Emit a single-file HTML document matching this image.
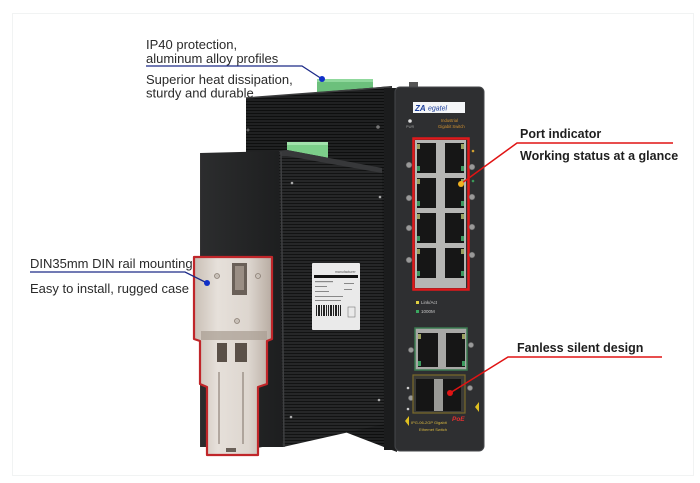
<!DOCTYPE html>
<html><head><meta charset="utf-8"><style>
html,body{margin:0;padding:0;background:#fff;}
svg{display:block}
</style></head><body>
<svg width="700" height="483" viewBox="0 0 700 483" xmlns="http://www.w3.org/2000/svg" font-family="Liberation Sans, Arial, sans-serif">
<defs>
<pattern id="rib" width="4" height="3" patternUnits="userSpaceOnUse">
<rect width="4" height="3" fill="#202122"/>
<rect width="4" height="1" y="2" fill="#0e0f0f"/>
</pattern>
<pattern id="rib2" width="4" height="3" patternUnits="userSpaceOnUse">
<rect width="4" height="3" fill="#262728"/>
<rect width="4" height="1" y="2" fill="#121313"/>
</pattern>
<linearGradient id="face" x1="0" x2="1" y1="0" y2="0">
<stop offset="0" stop-color="#2c2d2e"/><stop offset="1" stop-color="#1d1e1f"/>
</linearGradient>
<linearGradient id="metal" x1="0" x2="1" y1="0" y2="0">
<stop offset="0" stop-color="#c9bfb5"/><stop offset="0.3" stop-color="#e6e0da"/><stop offset="0.7" stop-color="#ddd6cf"/><stop offset="1" stop-color="#b8aca2"/>
</linearGradient>
</defs>
<rect x="12.5" y="13.5" width="681" height="462" fill="none" stroke="#f1f3f3"/>

<!-- green terminal on back device -->
<rect x="317" y="79" width="56" height="13" fill="#6cc07c"/>
<rect x="317" y="79" width="56" height="3" fill="#8fd89c"/>

<!-- back device body -->
<polygon points="246,98 392,86 397,452 345,432 246,450" fill="url(#rib)"/>
<line x1="246" y1="98" x2="392" y2="87" stroke="#3c3d3e" stroke-width="1.5"/>
<circle cx="248" cy="130" r="1.5" fill="#666"/>
<circle cx="378" cy="127" r="1.8" fill="#777"/>
<rect x="384" y="88" width="12" height="362" fill="#1b1c1d"/>

<!-- top knob -->
<rect x="409" y="82" width="9" height="7" fill="#555" />

<!-- front panel -->
<rect x="395" y="87" width="89" height="364" rx="5" fill="#2e2f31" stroke="#45474a"/>
<rect x="413" y="102" width="52" height="11" fill="#f4f6f8"/>
<text x="415" y="111" font-size="8" font-style="italic" font-weight="bold" fill="#1b3d9a">ZA</text>
<text x="428" y="110.5" font-size="7" font-style="italic" fill="#1b3d9a">egatel</text>
<text x="441" y="122" font-size="4.2" fill="#d09030">Industrial</text>
<text x="438" y="128" font-size="4.2" fill="#d09030">Gigabit Switch</text>
<circle cx="410" cy="121" r="1.8" fill="#ddd"/>
<text x="406" y="128" font-size="3.5" fill="#999">PWR</text>

<!-- port block -->
<rect x="415" y="140" width="51" height="148" fill="#b6b6b4"/>
<g fill="#161616">
<rect x="417" y="143" width="19" height="30"/><rect x="445" y="143" width="19" height="30"/>
<rect x="417" y="178" width="19" height="30"/><rect x="445" y="178" width="19" height="30"/>
<rect x="417" y="213" width="19" height="30"/><rect x="445" y="213" width="19" height="30"/>
<rect x="417" y="248" width="19" height="30"/><rect x="445" y="248" width="19" height="30"/>
</g>
<g fill="#9aa060">
<rect x="417" y="144" width="3" height="5"/><rect x="461" y="144" width="3" height="5"/>
<rect x="417" y="179" width="3" height="5"/><rect x="461" y="179" width="3" height="5"/>
<rect x="417" y="214" width="3" height="5"/><rect x="461" y="214" width="3" height="5"/>
<rect x="417" y="249" width="3" height="5"/><rect x="461" y="249" width="3" height="5"/>
</g>
<g fill="#3d9a60">
<rect x="417" y="166" width="3" height="5"/><rect x="461" y="166" width="3" height="5"/>
<rect x="417" y="201" width="3" height="5"/><rect x="461" y="201" width="3" height="5"/>
<rect x="417" y="236" width="3" height="5"/><rect x="461" y="236" width="3" height="5"/>
<rect x="417" y="271" width="3" height="5"/><rect x="461" y="271" width="3" height="5"/>
</g>
<rect x="413.5" y="138.5" width="55" height="151" fill="none" stroke="#e0191b" stroke-width="2.5"/>

<g fill="#999" stroke="#666" stroke-width="0.6">
<circle cx="409" cy="165" r="2.8"/><circle cx="409" cy="198" r="2.8"/><circle cx="409" cy="228" r="2.8"/><circle cx="409" cy="260" r="2.8"/>
<circle cx="472" cy="167" r="2.8"/><circle cx="472" cy="197" r="2.8"/><circle cx="472" cy="227" r="2.8"/><circle cx="472" cy="255" r="2.8"/>
<circle cx="411" cy="350" r="2.6"/><circle cx="471" cy="345" r="2.6"/><circle cx="411" cy="398" r="2.6"/><circle cx="470" cy="388" r="2.6"/>
</g>
<circle cx="473" cy="151" r="1.3" fill="#d0a030"/>
<circle cx="473" cy="181" r="1.3" fill="#3a9a5a"/>

<rect x="416" y="301" width="3" height="3" fill="#e0d040"/>
<text x="421" y="304" font-size="4.5" fill="#c8c8c8">Link/Act</text>
<rect x="416" y="310" width="3" height="3" fill="#3aa860"/>
<text x="421" y="313" font-size="4.5" fill="#c8c8c8">1000M</text>

<!-- lower RJ45 pair -->
<rect x="415" y="328" width="52" height="42" fill="#a8a8a6" stroke="#3a7a50" stroke-width="1.5"/>
<rect x="418" y="333" width="20" height="34" fill="#161616"/>
<rect x="446" y="333" width="19" height="34" fill="#161616"/>
<rect x="418" y="334" width="3" height="5" fill="#9aa060"/><rect x="462" y="334" width="3" height="5" fill="#9aa060"/>
<rect x="418" y="361" width="3" height="5" fill="#3d9a60"/><rect x="462" y="361" width="3" height="5" fill="#3d9a60"/>

<!-- SFP -->
<rect x="413" y="375" width="52" height="38" fill="#3a3a36" stroke="#7a6a2a" stroke-width="1.2"/>
<rect x="416" y="379" width="18" height="32" fill="#151515"/>
<rect x="434" y="379" width="9" height="32" fill="#9a9a96"/>
<rect x="443" y="379" width="18" height="32" fill="#151515"/>
<circle cx="408" cy="388" r="1.3" fill="#ccc"/><circle cx="408" cy="409" r="1.3" fill="#ccc"/>
<text x="411" y="424" font-size="4" fill="#d8b840">IPG-06-2GP Gigabit</text>
<text x="419" y="431" font-size="4" fill="#d8b840">Ethernet Switch</text>
<text x="452" y="421" font-size="6.5" font-style="italic" font-weight="bold" fill="#e03030">PoE</text>
<polygon points="409,416 405,421 409,426" fill="#e0c020"/>
<polygon points="475,407 479,402 479,412" fill="#e0c020"/>

<!-- second green terminal -->
<rect x="287" y="142" width="41" height="16" fill="#7ccf8a"/>
<rect x="287" y="142" width="41" height="3" fill="#a2e2ac"/>

<!-- front device -->
<polygon points="200,153 279,151 283,447 200,447" fill="url(#face)"/>
<polygon points="279,151 287,150 382,168 384,424 345,433 283,447" fill="url(#rib2)"/>
<polygon points="279,151 287,150 382,168 382,173 287,156 281,156" fill="#37383a"/>
<line x1="281" y1="152" x2="284" y2="447" stroke="#3e3f41" stroke-width="1.5"/>
<line x1="200.5" y1="153" x2="200.5" y2="447" stroke="#333" stroke-width="1"/>
<g fill="#aaa">
<circle cx="292" cy="183" r="1.3"/><circle cx="380" cy="197" r="1.3"/><circle cx="379" cy="400" r="1.3"/><circle cx="291" cy="417" r="1.3"/>
</g>

<!-- side label -->
<rect x="312" y="263" width="48" height="67" fill="#eaeaea" rx="1"/>
<rect x="314" y="275" width="44" height="3" fill="#111"/>
<text x="335" y="273" font-size="3.5" fill="#555">manufacturer</text>
<g fill="#888"><rect x="315" y="281" width="18" height="1.2"/><rect x="315" y="286" width="12" height="1"/><rect x="315" y="291" width="14" height="1"/><rect x="315" y="296" width="28" height="1"/><rect x="315" y="300" width="26" height="1"/><rect x="344" y="283" width="10" height="1"/><rect x="344" y="289" width="8" height="1"/></g>
<g fill="#222"><rect x="316" y="305" width="1" height="11"/><rect x="318" y="305" width="2" height="11"/><rect x="321" y="305" width="1" height="11"/><rect x="323" y="305" width="2" height="11"/><rect x="326" y="305" width="1" height="11"/><rect x="328" y="305" width="1" height="11"/><rect x="330" y="305" width="2" height="11"/><rect x="333" y="305" width="1" height="11"/><rect x="335" y="305" width="2" height="11"/><rect x="338" y="305" width="1" height="11"/><rect x="340" y="305" width="1" height="11"/></g>
<rect x="348" y="307" width="7" height="10" fill="none" stroke="#777" stroke-width="0.6"/>

<!-- DIN clip -->
<polygon points="194,257 272,257 272,339 267,341 267,384 258,387 258,455 207,455 207,387 200,384 200,341 194,339" fill="url(#metal)" stroke="#c0262a" stroke-width="2.2" stroke-linejoin="round"/>
<rect x="201" y="331" width="66" height="9" fill="#a89c92" opacity="0.7"/>
<rect x="232" y="263" width="15" height="32" fill="#6a6058"/>
<rect x="235" y="266" width="9" height="24" fill="#9a8e84"/>
<g fill="#c8c0b8" stroke="#8a7e74" stroke-width="0.8"><circle cx="217" cy="276" r="2.5"/><circle cx="258" cy="276" r="2.5"/><circle cx="237" cy="321" r="2.5"/></g>
<rect x="217" y="343" width="10" height="19" fill="#5a5048"/>
<rect x="235" y="343" width="12" height="19" fill="#5a5048"/>
<g stroke="#8e8278" stroke-width="1.2"><line x1="219" y1="372" x2="219" y2="444"/><line x1="243" y1="372" x2="243" y2="444"/></g>
<rect x="226" y="448" width="10" height="4" fill="#6a6058"/>

<!-- annotations left -->
<g font-size="13" fill="#2a2a2a">
<text x="146" y="49">IP40 protection,</text>
<text x="146" y="63">aluminum alloy profiles</text>
<text x="146" y="84">Superior heat dissipation,</text>
<text x="146" y="97.5">sturdy and durable</text>
<text x="30" y="268">DIN35mm DIN rail mounting</text>
<text x="30" y="293">Easy to install, rugged case</text>
</g>
<polyline points="146,66 302,66 322,79" fill="none" stroke="#1c2a88" stroke-width="1.3"/>
<circle cx="322" cy="79" r="3" fill="#1030c8"/>
<polyline points="30,272 185,272 207,283" fill="none" stroke="#1c2a88" stroke-width="1.3"/>
<circle cx="207" cy="283" r="3" fill="#1030c8"/>

<!-- annotations right -->
<g font-size="12.5" font-weight="bold" fill="#1e1e1e">
<text x="520" y="138">Port indicator</text>
<text x="520" y="160">Working status at a glance</text>
<text x="517" y="352">Fanless silent design</text>
</g>
<polyline points="673,143 517,143 462,183" fill="none" stroke="#e01414" stroke-width="1.5"/>
<circle cx="461" cy="184" r="3" fill="#f0b020"/>
<polyline points="662,357 508,357 450,393" fill="none" stroke="#e01414" stroke-width="1.5"/>
<circle cx="450" cy="393" r="3" fill="#e01414"/>
</svg>
</body></html>
